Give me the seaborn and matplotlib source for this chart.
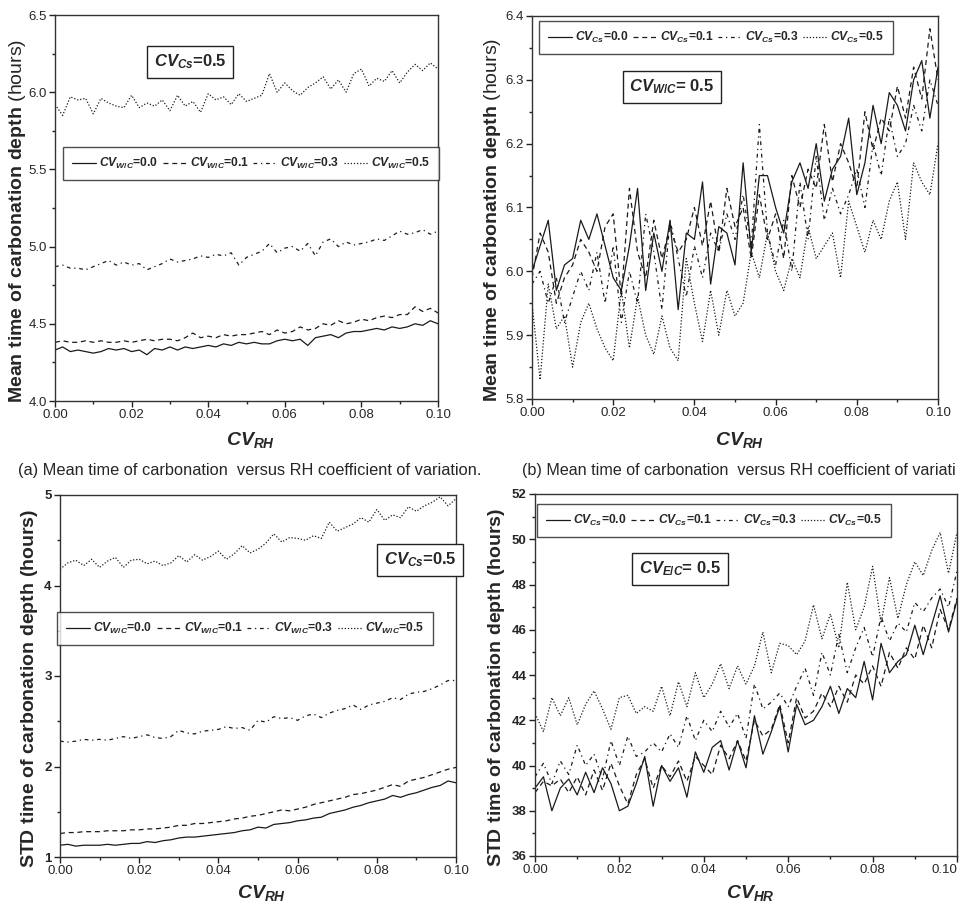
import matplotlib
matplotlib.use("Agg")
import matplotlib.pyplot as plt
import numpy as np
import seaborn as sns

# x grid: coefficient of variation of relative humidity
cv_rh = np.linspace(0.0, 0.10, 51)
levels = ["0.0", "0.1", "0.3", "0.5"]

# (a) mean time, CV_Cs = 0.5, series by CV_W/C
a_00 = [4.33, 4.35, 4.32, 4.33, 4.32, 4.31, 4.32, 4.34, 4.33, 4.34,
        4.32, 4.33, 4.30, 4.34, 4.33, 4.35, 4.33, 4.35, 4.34, 4.35,
        4.36, 4.35, 4.37, 4.36, 4.38, 4.37, 4.38, 4.37, 4.37, 4.39,
        4.40, 4.39, 4.40, 4.36, 4.41, 4.42, 4.43, 4.41, 4.44, 4.45,
        4.45, 4.46, 4.47, 4.46, 4.48, 4.47, 4.48, 4.50, 4.49, 4.52,
        4.50]
a_01 = [4.38, 4.39, 4.38, 4.38, 4.39, 4.38, 4.39, 4.38, 4.38, 4.39,
        4.38, 4.39, 4.40, 4.39, 4.40, 4.40, 4.39, 4.41, 4.44, 4.41,
        4.42, 4.41, 4.43, 4.42, 4.43, 4.43, 4.44, 4.45, 4.43, 4.46,
        4.44, 4.45, 4.48, 4.46, 4.47, 4.50, 4.49, 4.52, 4.50, 4.51,
        4.53, 4.52, 4.54, 4.55, 4.54, 4.56, 4.56, 4.61, 4.58, 4.60,
        4.57]
a_03 = [4.87, 4.88, 4.86, 4.86, 4.85, 4.87, 4.89, 4.91, 4.88, 4.90,
        4.88, 4.89, 4.85, 4.87, 4.89, 4.92, 4.90, 4.91, 4.92, 4.94,
        4.93, 4.95, 4.94, 4.96, 4.88, 4.93, 4.95, 4.97, 5.02, 4.96,
        4.99, 5.00, 4.97, 5.02, 4.94, 5.03, 5.05, 5.00, 5.03, 5.01,
        5.02, 5.03, 5.05, 5.04, 5.07, 5.10, 5.08, 5.09, 5.11, 5.08,
        5.10]
a_05 = [5.92, 5.85, 5.97, 5.95, 5.96, 5.86, 5.96, 5.93, 5.91, 5.90,
        5.98, 5.90, 5.93, 5.91, 5.95, 5.88, 5.98, 5.91, 5.94, 5.87,
        5.99, 5.95, 5.97, 5.92, 5.99, 5.94, 5.96, 5.98, 6.12, 6.00,
        6.06, 6.01, 5.98, 6.03, 6.06, 6.10, 6.02, 6.08, 6.00, 6.12,
        6.15, 6.04, 6.09, 6.07, 6.14, 6.06, 6.13, 6.18, 6.14, 6.19,
        6.15]

# (b) mean time, CV_W/C = 0.5, series by CV_Cs
b_00 = [6.00, 6.04, 6.08, 5.97, 6.01, 6.02, 6.08, 6.05, 6.09, 6.04,
        5.99, 5.97, 6.04, 6.13, 5.97, 6.06, 6.00, 6.08, 5.94, 6.06,
        6.05, 6.14, 5.98, 6.07, 6.06, 6.01, 6.17, 6.03, 6.15, 6.15,
        6.10, 6.06, 6.14, 6.17, 6.13, 6.20, 6.11, 6.16, 6.18, 6.24,
        6.12, 6.17, 6.26, 6.20, 6.28, 6.26, 6.22, 6.30, 6.33, 6.24,
        6.32]
b_01 = [5.99, 6.06, 6.03, 5.95, 5.99, 6.01, 6.05, 6.03, 6.00, 6.07,
        6.09, 5.96, 6.13, 6.03, 5.99, 6.08, 6.02, 6.07, 6.03, 6.05,
        6.10, 6.04, 6.11, 6.03, 6.13, 6.07, 6.10, 6.02, 6.12, 6.05,
        6.09, 6.02, 6.15, 6.10, 6.16, 6.13, 6.23, 6.14, 6.20, 6.17,
        6.13, 6.25, 6.19, 6.24, 6.22, 6.29, 6.24, 6.32, 6.27, 6.38,
        6.30]
b_03 = [5.98, 6.00, 5.95, 5.99, 5.92, 5.96, 6.00, 5.97, 6.03, 5.95,
        6.04, 5.92, 6.00, 5.95, 6.09, 6.03, 5.94, 6.08, 6.02, 5.96,
        6.04, 5.99, 6.06, 6.03, 6.09, 6.05, 6.12, 6.04, 6.23, 6.06,
        6.01, 6.08, 6.00, 6.14, 6.05, 6.18, 6.08, 6.13, 6.09, 6.12,
        6.16, 6.10, 6.20, 6.15, 6.24, 6.18, 6.20, 6.26, 6.22, 6.30,
        6.26]
b_05 = [5.95, 5.83, 5.98, 5.91, 5.93, 5.85, 5.92, 5.95, 5.91, 5.88,
        5.86, 5.97, 5.88, 5.96, 5.90, 5.87, 5.93, 5.88, 5.86, 6.02,
        5.95, 5.89, 5.97, 5.90, 5.97, 5.93, 5.95, 6.03, 5.99, 6.06,
        6.00, 5.97, 6.02, 5.99, 6.07, 6.02, 6.04, 6.06, 5.99, 6.11,
        6.07, 6.03, 6.08, 6.05, 6.11, 6.14, 6.05, 6.17, 6.14, 6.12,
        6.20]

# (c) STD time, CV_Cs = 0.5, series by CV_W/C
c_00 = [1.13, 1.14, 1.12, 1.13, 1.13, 1.13, 1.14, 1.13, 1.14, 1.15,
        1.15, 1.17, 1.16, 1.18, 1.19, 1.21, 1.22, 1.22, 1.23, 1.24,
        1.25, 1.26, 1.27, 1.29, 1.30, 1.33, 1.32, 1.36, 1.37, 1.38,
        1.40, 1.41, 1.43, 1.44, 1.48, 1.50, 1.52, 1.55, 1.57, 1.60,
        1.62, 1.64, 1.68, 1.66, 1.69, 1.71, 1.74, 1.77, 1.79, 1.84,
        1.82]
c_01 = [1.26, 1.27, 1.27, 1.28, 1.28, 1.28, 1.29, 1.29, 1.29, 1.30,
        1.30, 1.31, 1.31, 1.32, 1.33, 1.35, 1.35, 1.37, 1.37, 1.38,
        1.39, 1.40, 1.42, 1.43, 1.45, 1.46, 1.48, 1.50, 1.52, 1.51,
        1.53, 1.55, 1.58, 1.60, 1.62, 1.64, 1.66, 1.69, 1.70, 1.72,
        1.74, 1.77, 1.80, 1.78, 1.84, 1.86, 1.88, 1.91, 1.94, 1.97,
        1.99]
c_03 = [2.28, 2.27, 2.28, 2.30, 2.29, 2.30, 2.29, 2.31, 2.33, 2.31,
        2.33, 2.35, 2.32, 2.31, 2.33, 2.40, 2.37, 2.36, 2.39, 2.40,
        2.41, 2.44, 2.42, 2.43, 2.40, 2.51, 2.49, 2.55, 2.53, 2.54,
        2.51, 2.56, 2.58, 2.54, 2.59, 2.62, 2.64, 2.68, 2.63, 2.68,
        2.70, 2.72, 2.76, 2.74, 2.80, 2.82, 2.83, 2.86, 2.90, 2.95,
        2.95]
c_05 = [4.18, 4.25, 4.28, 4.22, 4.29, 4.20, 4.27, 4.31, 4.20, 4.28,
        4.29, 4.24, 4.27, 4.22, 4.25, 4.33, 4.26, 4.34, 4.28, 4.32,
        4.38, 4.29, 4.35, 4.44, 4.36, 4.40, 4.47, 4.57, 4.48, 4.53,
        4.52, 4.50, 4.55, 4.52, 4.70, 4.60, 4.64, 4.68, 4.75, 4.70,
        4.84, 4.72, 4.78, 4.75, 4.87, 4.82, 4.88, 4.92, 4.98, 4.88,
        4.96]

# (d) STD time, CV_E/C = 0.5, series by CV_Cs
d_00 = [39.0, 39.5, 38.0, 39.0, 39.4, 38.7, 39.7, 38.8, 39.9, 39.2,
        38.0, 38.2, 39.2, 40.4, 38.2, 40.0, 39.3, 39.9, 38.6, 40.6,
        39.7, 40.8, 41.1, 39.8, 41.1, 39.9, 42.2, 40.5, 41.5, 42.6,
        40.6, 42.7, 41.8, 42.0, 42.6, 43.5, 42.3, 43.4, 43.0, 44.6,
        42.9, 45.4, 44.1, 44.6, 44.9, 46.2, 44.9, 46.2, 47.5, 45.9,
        47.3]
d_01 = [38.8, 39.3, 39.1, 39.4, 38.8, 39.5, 38.7, 39.8, 38.9, 40.1,
        39.1, 38.3, 39.6, 40.3, 39.0, 40.0, 39.5, 40.2, 39.3, 40.4,
        40.0, 39.6, 40.9, 40.3, 41.1, 40.2, 42.0, 41.3, 41.6, 42.7,
        41.0, 43.0, 42.1, 42.4, 43.2, 42.6, 43.5, 42.8, 44.0, 43.6,
        44.4, 43.5, 45.0, 44.3, 45.2, 44.7, 46.2, 45.2, 46.9, 46.0,
        47.4]
d_03 = [39.5, 40.1, 39.2, 40.2, 39.6, 40.9, 40.0, 40.5, 39.4, 41.1,
        40.0, 41.3, 40.4, 40.6, 41.0, 40.6, 41.4, 40.8, 42.2, 41.1,
        42.0, 41.5, 42.4, 41.7, 42.3, 41.2, 43.6, 42.5, 42.8, 43.2,
        42.6, 43.5, 44.3, 43.1, 45.0, 44.0, 45.8, 44.1, 45.2, 46.1,
        44.8, 46.6, 45.5, 46.3, 45.9, 47.2, 46.8, 47.4, 47.8, 47.0,
        48.6]
d_05 = [42.3, 41.5, 43.0, 42.2, 43.0, 41.8, 42.7, 43.3, 42.5, 41.6,
        43.0, 43.1, 42.3, 42.6, 42.4, 43.5, 42.2, 43.7, 42.6, 44.1,
        43.0, 43.6, 44.5, 43.4, 44.4, 43.6, 44.4, 45.9, 44.1, 45.4,
        45.3, 44.9, 45.5, 47.1, 45.6, 46.7, 45.2, 48.1, 46.0, 47.0,
        48.8, 46.3, 48.3, 46.5, 48.0, 49.0, 48.4, 49.5, 50.3, 48.5,
        50.3]

sns.set_theme(style="ticks")
plt.rcParams["font.family"] = ["Liberation Sans", "DejaVu Sans"]
plt.rcParams["mathtext.fontset"] = "custom"
plt.rcParams["mathtext.it"] = "Liberation Sans:italic:bold"
plt.rcParams["mathtext.bf"] = "Liberation Sans:bold"
plt.rcParams["mathtext.rm"] = "Liberation Sans:bold"

W, H = 968, 908
line_styles = ["-", (0, (4, 3)), (0, (3, 3, 1, 3)), (0, (1, 1.5))]

fig = plt.figure(figsize=(W / 100, H / 100), dpi=100)


def px_rect(x0, y0, x1, y1):
    return [x0 / W, 1 - y1 / H, (x1 - x0) / W, (y1 - y0) / H]


def draw_panel(rect, series, sub, ylim, yticks, yminor, ylabel, xlabel,
               leg_xy, box_txt, box_xy, ylab_x, xlab_y, bold_yticks):
    ax = fig.add_axes(px_rect(*rect))
    for vals, lvl, ls in zip(series, levels, line_styles):
        sns.lineplot(x=cv_rh, y=vals, ax=ax, color="#1a1a1a", linewidth=0.9,
                     linestyle=ls, label=rf"$CV_{{{sub}}}$=" + lvl)
    ax.set_xlim(0, 0.10)
    ax.set_ylim(*ylim)
    ax.set_xticks([0.0, 0.02, 0.04, 0.06, 0.08, 0.10])
    ax.set_xticks([0.01, 0.03, 0.05, 0.07, 0.09], minor=True)
    ax.set_yticks(yticks)
    ax.set_yticks(yminor, minor=True)
    ax.set_xticklabels(["0.00", "0.02", "0.04", "0.06", "0.08", "0.10"])
    ax.tick_params(axis="both", which="major", direction="out", length=4,
                   width=1, labelsize=9.5, pad=2, color="#222222")
    ax.tick_params(axis="both", which="minor", direction="out", length=2.5,
                   width=1, color="#222222")
    if bold_yticks:
        for lab in ax.get_yticklabels():
            lab.set_fontweight("bold")
    for sp in ax.spines.values():
        sp.set_visible(True)
        sp.set_linewidth(1.0)
        sp.set_color("#333333")
    ax.set_ylabel(ylabel, fontsize=14)
    ax.yaxis.set_label_coords(ylab_x, 0.467)
    ax.set_xlabel(xlabel, fontsize=14)
    ax.xaxis.set_label_coords(0.51, xlab_y)
    leg = ax.legend(ncol=4, loc="upper left",
                    bbox_to_anchor=(leg_xy[0] / W, 1 - leg_xy[1] / H),
                    bbox_transform=fig.transFigure, frameon=True,
                    fancybox=False, edgecolor="#222222", handlelength=2.0,
                    handletextpad=0.25, columnspacing=0.35, borderpad=0.75,
                    borderaxespad=0, prop={"size": 8.7, "weight": "bold"})
    leg.get_frame().set_linewidth(1.0)
    fig.text(box_xy[0] / W, 1 - box_xy[1] / H, box_txt, fontsize=12,
             fontweight="bold", ha="center", va="center",
             bbox=dict(boxstyle="square,pad=0.4", fc="white",
                       ec="#222222", lw=1.0))
    return ax


draw_panel((55, 15, 438, 401), [a_00, a_01, a_03, a_05], "W/C",
           (4.0, 6.5), [4.0, 4.5, 5.0, 5.5, 6.0, 6.5],
           [4.25, 4.75, 5.25, 5.75, 6.25],
           r"$\mathbf{Mean\ time\ of\ carbonation\ depth}$ (hours)",
           r"$CV_{RH}$", (63, 147), r"$CV_{Cs}$=0.5", (190, 62),
           -0.07, -0.075, False)

draw_panel((532, 16, 938, 399), [b_00, b_01, b_03, b_05], "Cs",
           (5.8, 6.4), [5.8, 5.9, 6.0, 6.1, 6.2, 6.3, 6.4],
           [5.85, 5.95, 6.05, 6.15, 6.25, 6.35],
           r"$\mathbf{Mean\ time\ of\ carbonation\ depth}$ (hours)",
           r"$CV_{RH}$", (539, 21), r"$CV_{W/C}$= 0.5", (672, 87),
           -0.071, -0.081, False)

draw_panel((60, 495, 456, 857), [c_00, c_01, c_03, c_05], "W/C",
           (1, 5), [1, 2, 3, 4, 5], [1.5, 2.5, 3.5, 4.5],
           r"$\mathbf{STD\ time\ of\ carbonation\ depth\ (hours)}$",
           r"$CV_{RH}$", (57, 612), r"$CV_{Cs}$=0.5", (420, 560),
           -0.05, -0.072, True)

ax_d = draw_panel((535, 494, 957, 856), [d_00, d_01, d_03, d_05], "Cs",
                  (36, 52), [36, 38, 40, 42, 44, 46, 48, 50, 52],
                  [37, 39, 41, 43, 45, 47, 49, 51],
                  r"$\mathbf{STD\ time\ of\ carbonation\ depth\ (hours)}$",
                  r"$CV_{HR}$", (537, 504), r"$CV_{E/C}$= 0.5", (680, 569),
                  -0.066, -0.075, True)
# keep the last x tick label of panel (d) inside the canvas
ax_d.get_xticklabels()[-1].set_horizontalalignment("right")

fig.text(18 / W, 1 - 471 / H,
         "(a) Mean time of carbonation  versus RH coefficient of variation.",
         fontsize=11.8, ha="left", va="center")
# the reference caption is cut at the right edge of the page
fig.text(522 / W, 1 - 471 / H,
         "(b) Mean time of carbonation  versus RH coefficient of variati",
         fontsize=11.6, ha="left", va="center")

fig.savefig("out.png", dpi=100)
